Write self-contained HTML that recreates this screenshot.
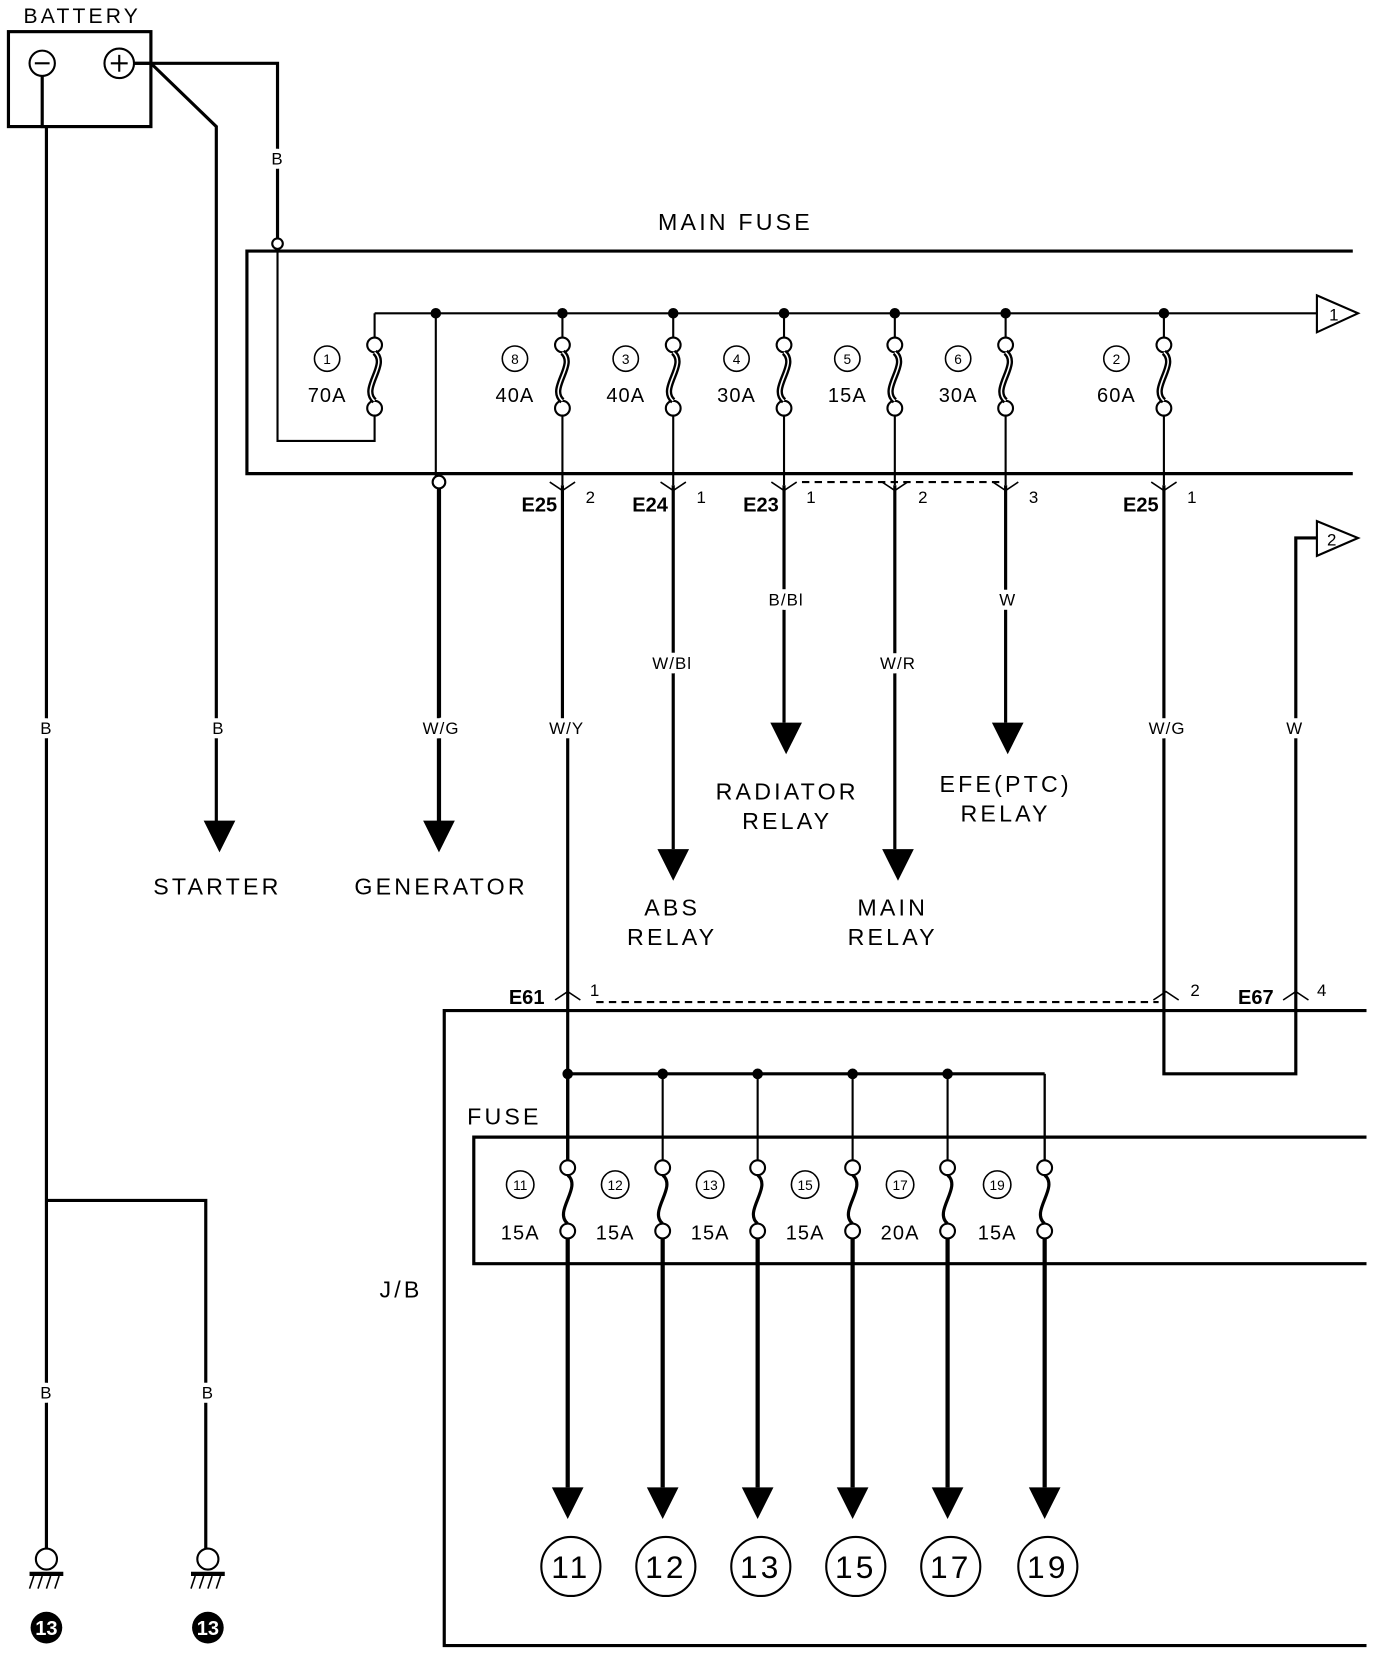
<!DOCTYPE html>
<html><head><meta charset="utf-8"><style>
html,body{margin:0;padding:0;background:#fff;}
svg{display:block;}
text{font-family:"Liberation Sans",sans-serif;fill:#000;}
.t{font-size:22px;letter-spacing:3px;text-anchor:middle;}
.s{font-size:16px;text-anchor:middle;letter-spacing:1px;paint-order:stroke;stroke:#fff;stroke-width:8px;}
.a{font-size:19px;text-anchor:middle;letter-spacing:1px;}
.b{font-size:19px;font-weight:bold;text-anchor:end;}
.n{font-size:13px;text-anchor:middle;}
</style></head><body>
<svg width="1376" height="1654" viewBox="0 0 1304 1568" preserveAspectRatio="none" xmlns="http://www.w3.org/2000/svg">
<g fill="none" stroke="#000" stroke-width="2">
<rect x="8" y="30" width="135" height="90" stroke-width="3"/>
<circle cx="40" cy="60" r="12"/><line x1="33" y1="60" x2="47" y2="60"/>
<circle cx="113" cy="60" r="14"/><line x1="105" y1="60" x2="121" y2="60"/><line x1="113" y1="52" x2="113" y2="68"/>
<polyline points="127,60 263,60 263,226" stroke-width="3"/>
<circle cx="263" cy="231" r="5" fill="#fff"/>
<polyline points="263,236 263,418 355,418 355,393"/>
<polyline points="127,60 143,60 205,120 205,780" stroke-width="3"/>
<polyline points="40,72 40,120 44,120 44,1470" stroke-width="3"/>
<polyline points="44,1138 195,1138 195,1470" stroke-width="3"/>
<polyline points="1282,238 234,238 234,449 1282,449" stroke-width="3"/>
<line x1="355" y1="297" x2="1248" y2="297"/>
<line x1="355" y1="297" x2="355" y2="321"/>
<polygon points="1248,280 1287,297 1248,315" fill="#fff"/>
<line x1="413" y1="297" x2="413" y2="452"/>
<circle cx="416" cy="457" r="6" fill="#fff"/>
<line x1="416" y1="463" x2="416" y2="780" stroke-width="4"/>
<polyline points="1103,460 1103,1018 1228,1018 1228,510 1248,510" stroke-width="3"/>
<polygon points="1248,494 1287,510 1248,527" fill="#fff"/>
<line x1="533" y1="460" x2="533" y2="690" stroke-width="3"/>
<line x1="538" y1="690" x2="538" y2="1100" stroke-width="3"/>
<line x1="538" y1="1018" x2="990" y2="1018" stroke-width="3"/>
<line x1="990" y1="1018" x2="990" y2="1101"/>
<line x1="760" y1="457" x2="950" y2="457" stroke-dasharray="7,5"/>
<line x1="565" y1="950" x2="1098" y2="950" stroke-dasharray="7,5"/>
<polyline points="1295,958 421,958 421,1560 1295,1560" stroke-width="3"/>
<polyline points="1295,1078 449,1078 449,1198 1295,1198" stroke-width="3"/>
</g>
<g id="dyn"></g>
<script>
var NS="http://www.w3.org/2000/svg";
var svg=document.getElementById('dyn');
function el(t,a,txt){var e=document.createElementNS(NS,t);for(var k in a)e.setAttribute(k,a[k]);if(txt!==undefined)e.textContent=txt;svg.appendChild(e);return e;}
function arrow(x,y){el('polygon',{points:(x-15)+','+y+' '+(x+15)+','+y+' '+x+','+(y+30),fill:'#000'});}
function fuse(x,y1,y2,thick){
 el('circle',{cx:x,cy:y1,r:7,fill:'#fff',stroke:'#000','stroke-width':2});
 el('circle',{cx:x,cy:y2,r:7,fill:'#fff',stroke:'#000','stroke-width':2});
 var m=(y1+y2)/2,h=(y2-y1)/2-7;
 var d='M'+x+','+(y1+7)+' C'+(x+14)+','+(m-h/2)+' '+(x-14)+','+(m+h/2)+' '+x+','+(y2-7);
 el('path',{d:d,fill:'none',stroke:'#000','stroke-width':thick?6:3});
 if(thick) el('path',{d:d,fill:'none',stroke:'#fff','stroke-width':1.5});
}
var mf=[[355,'1','70A'],[533,'8','40A'],[638,'3','40A'],[743,'4','30A'],[848,'5','15A'],[953,'6','30A'],[1103,'2','60A']];
mf.forEach(function(f){var x=f[0];
 fuse(x,327,387,true);
 if(x!=355){el('line',{x1:x,y1:297,x2:x,y2:320,stroke:'#000','stroke-width':2});el('circle',{cx:x,cy:297,r:5,fill:'#000'});
  el('line',{x1:x,y1:394,x2:x,y2:460,stroke:'#000','stroke-width':2});}
 el('circle',{cx:x-45,cy:340,r:12,fill:'none',stroke:'#000','stroke-width':1.5});
 el('text',{x:x-45,y:345,'class':'n'},f[1]);
 el('text',{x:x-45,y:381,'class':'a'},f[2]);
});
el('circle',{cx:413,cy:297,r:5,fill:'#000'});
function yconn(x,y){el('polyline',{points:(x-12)+','+(y-8)+' '+x+','+y+' '+(x+12)+','+(y-8),fill:'none',stroke:'#000','stroke-width':1.5});}
function lconn(x,y){el('polyline',{points:(x-12)+','+(y+8)+' '+x+','+y+' '+(x+12)+','+(y+8),fill:'none',stroke:'#000','stroke-width':1.5});}
[533,638,743,848,953,1103].forEach(function(x){yconn(x,465);});
el('line',{x1:638,y1:460,x2:638,y2:805,stroke:'#000','stroke-width':3});arrow(638,805);
el('line',{x1:743,y1:460,x2:743,y2:685,stroke:'#000','stroke-width':3});arrow(745,685);
el('line',{x1:848,y1:460,x2:848,y2:805,stroke:'#000','stroke-width':3});arrow(851,805);
el('line',{x1:953,y1:460,x2:953,y2:685,stroke:'#000','stroke-width':3});arrow(955,685);
arrow(208,778);arrow(416,778);
lconn(538,940);lconn(1105,940);lconn(1228,940);
var jf=[[538,'11','15A'],[628,'12','15A'],[718,'13','15A'],[808,'15','15A'],[898,'17','20A'],[990,'19','15A']];
jf.forEach(function(f,i){var x=f[0];
 if(i<5)el('circle',{cx:x,cy:1018,r:5,fill:'#000'});
 el('line',{x1:x,y1:1018,x2:x,y2:1100,stroke:'#000','stroke-width':i==0?3:2});
 fuse(x,1107,1167,false);
 el('line',{x1:x,y1:1174,x2:x,y2:1410,stroke:'#000','stroke-width':4});
 arrow(x,1410);
 el('circle',{cx:x-45,cy:1123,r:13,fill:'none',stroke:'#000','stroke-width':1.5});
 el('text',{x:x-45,y:1128,'class':'n'},f[1]);
 el('text',{x:x-45,y:1175,'class':'a'},f[2]);
 el('circle',{cx:x+3,cy:1485,r:28,fill:'none',stroke:'#000','stroke-width':2});
 el('text',{x:x+3,y:1496,'class':'t',style:'font-size:30px'},f[1]);
});
[44,197].forEach(function(x){
 el('circle',{cx:x,cy:1478,r:10,fill:'#fff',stroke:'#000','stroke-width':2});
 el('line',{x1:x-16,y1:1492,x2:x+16,y2:1492,stroke:'#000','stroke-width':4});
 for(var k=0;k<4;k++)el('line',{x1:x-12+k*8,y1:1494,x2:x-16+k*8,y2:1506,stroke:'#000','stroke-width':1.5});
 el('circle',{cx:x,cy:1543,r:15,fill:'#000'});
 el('text',{x:x,y:1550,'class':'n',style:'fill:#fff;font-weight:bold;font-size:19px'},'13');
});
</script>
<text x="78" y="22" class="t" style="font-size:20px">BATTERY</text>
<text x="263" y="156" class="s">B</text>
<text x="697" y="218" class="t">MAIN FUSE</text>
<text x="44" y="696" class="s">B</text>
<text x="207" y="696" class="s">B</text>
<text x="418" y="696" class="s">W/G</text>
<text x="537" y="696" class="s">W/Y</text>
<text x="637" y="634" class="s">W/Bl</text>
<text x="745" y="574" class="s">B/Bl</text>
<text x="851" y="634" class="s">W/R</text>
<text x="955" y="574" class="s">W</text>
<text x="1106" y="696" class="s">W/G</text>
<text x="1227" y="696" class="s">W</text>
<text x="44" y="1326" class="s">B</text>
<text x="197" y="1326" class="s">B</text>
<text x="206" y="848" class="t">STARTER</text>
<text x="418" y="848" class="t">GENERATOR</text>
<text x="637" y="868" class="t">ABS</text><text x="637" y="896" class="t">RELAY</text>
<text x="746" y="758" class="t">RADIATOR</text><text x="746" y="786" class="t">RELAY</text>
<text x="846" y="868" class="t">MAIN</text><text x="846" y="896" class="t">RELAY</text>
<text x="953" y="751" class="t">EFE(PTC)</text><text x="953" y="779" class="t">RELAY</text>
<text x="528" y="485" class="b">E25</text><text x="560" y="477" class="s">2</text>
<text x="633" y="485" class="b">E24</text><text x="665" y="477" class="s">1</text>
<text x="738" y="485" class="b">E23</text><text x="769" y="477" class="s">1</text>
<text x="875" y="477" class="s">2</text><text x="980" y="477" class="s">3</text>
<text x="1098" y="485" class="b">E25</text><text x="1130" y="477" class="s">1</text>
<text x="516" y="952" class="b">E61</text><text x="564" y="944" class="s">1</text>
<text x="1133" y="944" class="s">2</text>
<text x="1207" y="952" class="b">E67</text><text x="1253" y="944" class="s">4</text>
<text x="478" y="1066" class="t">FUSE</text>
<text x="380" y="1230" class="t">J/B</text>
<text x="1264" y="304" class="n" style="font-size:16px">1</text>
<text x="1262" y="517" class="n" style="font-size:16px">2</text>
</svg>
</body></html>
